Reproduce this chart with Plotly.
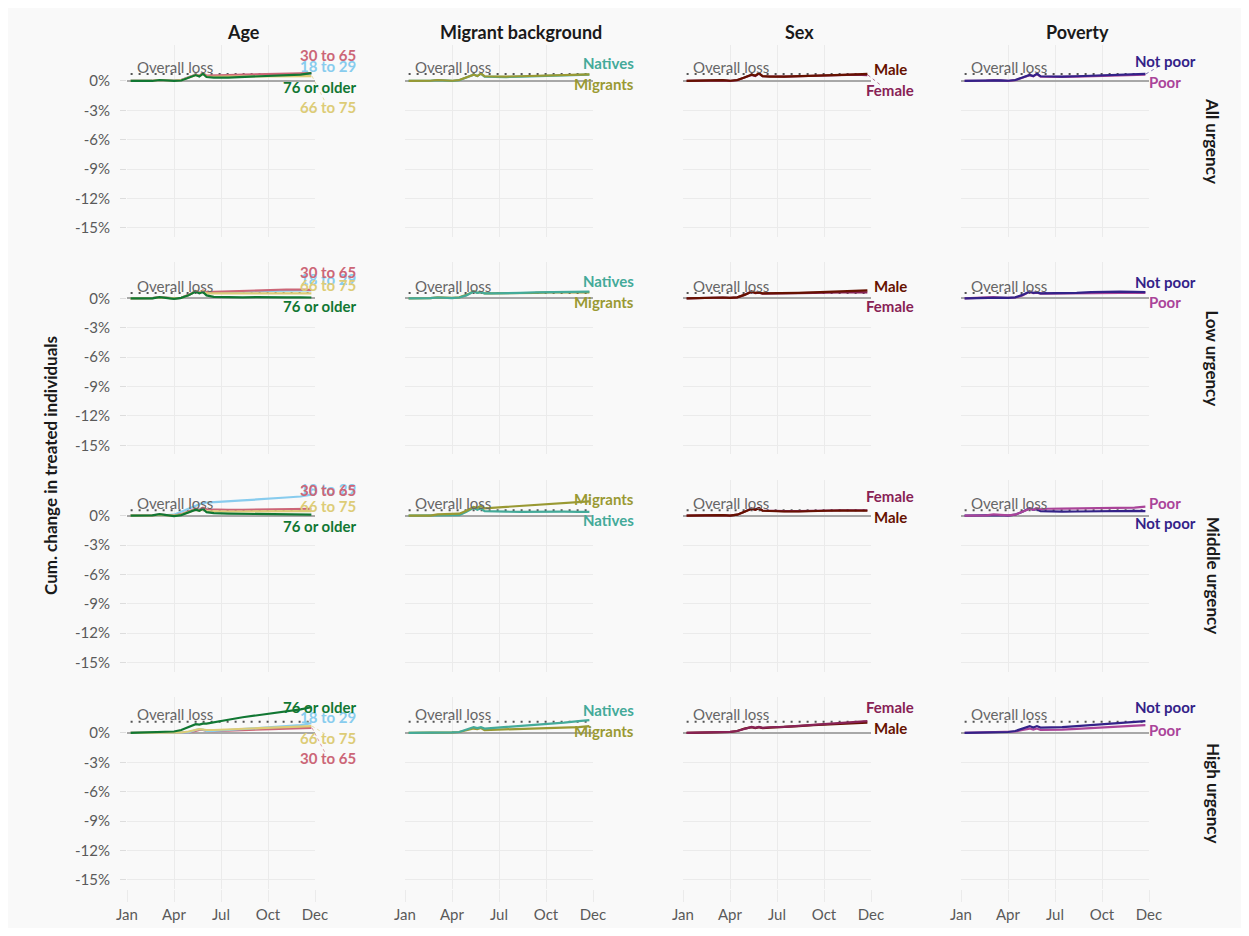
import plotly.graph_objects as go

# week index of each observation (x axis runs Jan..Dec as weeks 0..52)
WEEKS = [1, 4, 7, 9, 11, 13, 15, 17, 19, 20, 21, 22, 24, 28, 32, 36, 40, 44, 48, 51]
MONTH_TICKS = [0, 13, 26, 39, 52]
MONTH_LABELS = ["Jan", "Apr", "Jul", "Oct", "Dec"]
Y_TICKS = [0, -3, -6, -9, -12, -15]
Y_TICK_LABELS = ["0%", "-3%", "-6%", "-9%", "-12%", "-15%"]

FACETS = ["Age", "Migrant background", "Sex", "Poverty"]
URGENCY = ["All urgency", "Low urgency", "Middle urgency", "High urgency"]
OVERALL_LOSS = [0.72, 0.55, 0.55, 1.15]

COLORS = {
    "18 to 29": "#88CCEE", "30 to 65": "#CC6677", "66 to 75": "#DDCC77",
    "76 or older": "#117733", "Natives": "#44AA99", "Migrants": "#999933",
    "Male": "#661100", "Female": "#882255", "Not poor": "#332288", "Poor": "#AA4499",
}

# ---- All urgency
age_all = {
    "18 to 29": [0, 0, 0.02, 0.1, 0.05, 0.02, 0.1, 0.35, 0.65, 0.5, 0.75, 0.5, 0.5, 0.5, 0.55, 0.6, 0.65, 0.7, 0.7, 0.75],
    "30 to 65": [0, 0, 0.02, 0.1, 0.05, 0.02, 0.1, 0.35, 0.65, 0.55, 0.8, 0.55, 0.55, 0.6, 0.65, 0.7, 0.75, 0.78, 0.78, 0.8],
    "66 to 75": [0, 0, 0.02, 0.1, 0.05, 0.02, 0.08, 0.3, 0.6, 0.5, 0.7, 0.45, 0.42, 0.45, 0.45, 0.5, 0.5, 0.52, 0.5, 0.5],
    "76 or older": [0, 0, 0.0, 0.1, 0.05, 0.0, 0.05, 0.3, 0.6, 0.45, 0.75, 0.4, 0.35, 0.35, 0.4, 0.45, 0.5, 0.55, 0.65, 0.8],
}
migrant_all = {
    "Natives": [0, 0, 0.02, 0.08, 0.05, 0.0, 0.08, 0.35, 0.65, 0.5, 0.75, 0.45, 0.42, 0.4, 0.45, 0.5, 0.55, 0.6, 0.62, 0.65],
    "Migrants": [0, 0, 0.02, 0.1, 0.05, 0.02, 0.1, 0.35, 0.65, 0.5, 0.75, 0.48, 0.45, 0.45, 0.48, 0.52, 0.55, 0.6, 0.62, 0.68],
}
sex_all = {
    "Female": [0, 0.02, 0.05, 0.1, 0.06, 0.0, 0.08, 0.35, 0.62, 0.5, 0.75, 0.48, 0.45, 0.45, 0.48, 0.52, 0.56, 0.6, 0.65, 0.6],
    "Male": [0, 0.02, 0.05, 0.12, 0.08, 0.02, 0.1, 0.35, 0.65, 0.55, 0.8, 0.5, 0.45, 0.45, 0.48, 0.52, 0.58, 0.62, 0.68, 0.72],
}
poverty_all = {
    "Poor": [0, 0, 0.03, 0.08, 0.05, 0.0, 0.08, 0.3, 0.6, 0.48, 0.7, 0.45, 0.42, 0.42, 0.45, 0.5, 0.55, 0.58, 0.62, 0.65],
    "Not poor": [0, 0.02, 0.04, 0.1, 0.06, 0.02, 0.1, 0.35, 0.62, 0.5, 0.72, 0.48, 0.45, 0.45, 0.48, 0.52, 0.58, 0.62, 0.66, 0.72],
}

# ---- Low urgency
age_low = {
    "18 to 29": [0, 0, 0.02, 0.12, 0.05, 0.0, 0.05, 0.3, 0.7, 0.55, 0.7, 0.55, 0.6, 0.62, 0.65, 0.7, 0.75, 0.78, 0.78, 0.8],
    "30 to 65": [0, 0, 0.02, 0.12, 0.05, 0.0, 0.05, 0.35, 0.75, 0.6, 0.8, 0.62, 0.65, 0.7, 0.75, 0.8, 0.88, 0.9, 0.88, 0.85],
    "66 to 75": [0, 0, 0.02, 0.1, 0.05, 0.0, 0.05, 0.3, 0.7, 0.55, 0.75, 0.5, 0.5, 0.5, 0.52, 0.52, 0.55, 0.55, 0.55, 0.5],
    "76 or older": [0, 0, 0.0, 0.12, 0.05, -0.05, 0.05, 0.3, 0.7, 0.5, 0.65, 0.3, 0.15, 0.1, 0.1, 0.12, 0.08, 0.1, 0.1, 0.08],
}
migrant_low = {
    "Migrants": [0, 0, 0.02, 0.1, 0.05, 0.05, 0.1, 0.35, 0.72, 0.55, 0.65, 0.5, 0.5, 0.5, 0.52, 0.55, 0.6, 0.6, 0.62, 0.6],
    "Natives": [0, 0, 0.02, 0.08, 0.05, 0.02, 0.08, 0.3, 0.7, 0.55, 0.62, 0.5, 0.5, 0.5, 0.55, 0.6, 0.62, 0.65, 0.68, 0.68],
}
sex_low = {
    "Female": [0, 0.02, 0.05, 0.1, 0.08, 0.05, 0.1, 0.35, 0.68, 0.52, 0.58, 0.48, 0.48, 0.48, 0.52, 0.56, 0.6, 0.62, 0.62, 0.6],
    "Male": [0, 0.02, 0.05, 0.1, 0.08, 0.05, 0.1, 0.35, 0.7, 0.55, 0.6, 0.5, 0.5, 0.5, 0.55, 0.6, 0.65, 0.68, 0.72, 0.8],
}
poverty_low = {
    "Poor": [0, 0.02, 0.04, 0.12, 0.05, 0.05, 0.08, 0.3, 0.68, 0.52, 0.58, 0.48, 0.48, 0.48, 0.5, 0.52, 0.55, 0.55, 0.58, 0.55],
    "Not poor": [0, 0.02, 0.04, 0.1, 0.06, 0.05, 0.1, 0.35, 0.7, 0.55, 0.6, 0.5, 0.5, 0.52, 0.56, 0.62, 0.68, 0.68, 0.65, 0.62],
}

# ---- Middle urgency
age_mid = {
    "18 to 29": [0, 0, 0.0, 0.05, 0.05, 0.1, 0.4, 0.7, 1.0, 1.15, 1.3, 1.32, 1.38, 1.45, 1.55, 1.65, 1.72, 1.85, 1.95, 2.15],
    "30 to 65": [0, 0, 0.02, 0.1, 0.05, 0.0, 0.15, 0.45, 0.7, 0.6, 0.8, 0.65, 0.62, 0.6, 0.6, 0.62, 0.65, 0.68, 0.68, 0.7],
    "66 to 75": [0, 0, 0.02, 0.08, 0.05, 0.0, 0.1, 0.35, 0.6, 0.5, 0.65, 0.45, 0.42, 0.42, 0.42, 0.44, 0.45, 0.45, 0.45, 0.45],
    "76 or older": [0, 0, 0.02, 0.15, 0.05, -0.05, 0.05, 0.35, 0.6, 0.5, 0.7, 0.35, 0.25, 0.2, 0.18, 0.15, 0.1, 0.12, 0.1, 0.1],
}
migrant_mid = {
    "Natives": [0, 0, 0.02, 0.05, 0.03, 0.0, 0.05, 0.4, 0.8, 0.6, 0.75, 0.45, 0.42, 0.4, 0.38, 0.4, 0.38, 0.4, 0.38, 0.38],
    "Migrants": [0, 0, 0.0, 0.12, 0.15, 0.15, 0.2, 0.5, 0.9, 0.8, 1.0, 0.75, 0.8, 0.9, 1.0, 1.1, 1.2, 1.3, 1.35, 1.45],
}
sex_mid = {
    "Female": [0, 0.02, 0.05, 0.1, 0.05, 0.0, 0.1, 0.4, 0.72, 0.62, 0.78, 0.52, 0.48, 0.45, 0.45, 0.5, 0.52, 0.55, 0.55, 0.55],
    "Male": [0, 0.02, 0.05, 0.1, 0.05, 0.0, 0.1, 0.4, 0.7, 0.6, 0.75, 0.5, 0.45, 0.42, 0.42, 0.48, 0.5, 0.52, 0.52, 0.5],
}
poverty_mid = {
    "Not poor": [0, 0.02, 0.03, 0.1, 0.05, 0.0, 0.1, 0.4, 0.75, 0.6, 0.65, 0.45, 0.42, 0.4, 0.42, 0.45, 0.48, 0.48, 0.48, 0.45],
    "Poor": [0, 0.02, 0.03, 0.12, 0.08, 0.02, 0.1, 0.4, 0.7, 0.6, 0.75, 0.65, 0.7, 0.72, 0.75, 0.75, 0.78, 0.8, 0.82, 0.92],
}

# ---- High urgency
age_high = {
    "30 to 65": [0, 0, 0.0, 0.0, 0.0, 0.0, 0.0, 0.05, 0.2, 0.3, 0.3, 0.2, 0.18, 0.25, 0.3, 0.35, 0.4, 0.45, 0.5, 0.52],
    "18 to 29": [0, 0, 0.0, 0.0, 0.0, 0.0, 0.0, 0.05, 0.3, 0.4, 0.35, 0.2, 0.2, 0.3, 0.4, 0.5, 0.6, 0.7, 0.8, 1.0],
    "66 to 75": [0, 0, 0.0, 0.0, 0.05, 0.0, 0.05, 0.15, 0.35, 0.4, 0.35, 0.3, 0.3, 0.38, 0.42, 0.48, 0.55, 0.6, 0.65, 0.7],
    "76 or older": [0, 0.02, 0.05, 0.1, 0.12, 0.15, 0.3, 0.6, 0.9, 0.85, 0.95, 0.95, 1.1, 1.35, 1.6, 1.8, 1.95, 2.2, 2.4, 2.62],
}
migrant_high = {
    "Migrants": [0, 0.0, 0.02, 0.02, 0.05, 0.05, 0.1, 0.25, 0.45, 0.4, 0.5, 0.3, 0.32, 0.35, 0.4, 0.45, 0.5, 0.55, 0.6, 0.7],
    "Natives": [0, 0.0, 0.02, 0.02, 0.05, 0.05, 0.1, 0.35, 0.6, 0.5, 0.6, 0.45, 0.5, 0.6, 0.7, 0.8, 0.95, 1.05, 1.2, 1.3],
}
sex_high = {
    "Male": [0, 0.02, 0.05, 0.08, 0.1, 0.1, 0.2, 0.45, 0.6, 0.5, 0.6, 0.5, 0.55, 0.6, 0.7, 0.8, 0.88, 0.95, 1.0, 1.05],
    "Female": [0, 0.02, 0.05, 0.08, 0.1, 0.12, 0.2, 0.45, 0.62, 0.52, 0.62, 0.52, 0.58, 0.62, 0.72, 0.82, 0.92, 1.0, 1.1, 1.2],
}
poverty_high = {
    "Poor": [0, 0.02, 0.03, 0.05, 0.08, 0.1, 0.15, 0.3, 0.45, 0.35, 0.45, 0.3, 0.3, 0.35, 0.42, 0.5, 0.58, 0.65, 0.72, 0.8],
    "Not poor": [0, 0.02, 0.03, 0.05, 0.08, 0.1, 0.2, 0.45, 0.7, 0.55, 0.7, 0.55, 0.55, 0.6, 0.7, 0.8, 0.9, 1.0, 1.1, 1.2],
}

PANELS = [
    [age_all, migrant_all, sex_all, poverty_all],
    [age_low, migrant_low, sex_low, poverty_low],
    [age_mid, migrant_mid, sex_mid, poverty_mid],
    [age_high, migrant_high, sex_high, poverty_high],
]

# repelled end-label heights (in % units), per urgency row
LABEL_Y = [
    {"30 to 65": 2.65, "18 to 29": 1.53, "76 or older": -0.61, "66 to 75": -2.65,
     "Natives": 1.84, "Migrants": -0.31, "Male": 1.22, "Female": -0.92, "Not poor": 2.04, "Poor": -0.1},
    {"18 to 29": 1.94, "30 to 65": 2.65, "66 to 75": 1.33, "76 or older": -0.82,
     "Natives": 1.73, "Migrants": -0.41, "Male": 1.22, "Female": -0.82, "Not poor": 1.63, "Poor": -0.41},
    {"18 to 29": 2.72, "30 to 65": 2.65, "66 to 75": 1.02, "76 or older": -1.02,
     "Migrants": 1.73, "Natives": -0.41, "Female": 2.04, "Male": -0.1, "Poor": 1.33, "Not poor": -0.71},
    {"76 or older": 2.65, "18 to 29": 1.63, "66 to 75": -0.51, "30 to 65": -2.55,
     "Natives": 2.35, "Migrants": 0.2, "Female": 2.65, "Male": 0.51, "Not poor": 2.65, "Poor": 0.31},
]
# label anchor, in pixels from the panel's left edge
LABEL_X = {"Age": (231, "right"), "Migrant background": (231, "right"),
           "Sex": (207, "center"), "Poverty": (204, "center")}
# labels pushed far from their line end get a faint dotted leader
LEADERS = [(0, 0, "66 to 75", -2.1), (3, 0, "30 to 65", -2.0), (3, 0, "66 to 75", -0.1),
           (0, 2, "Female", -0.45), (0, 3, "Not poor", 1.5)]

FIG_W, FIG_H = 1233, 920
PANEL_W, PANEL_H = 188, 192
Y_RANGE = [-15.92, 3.67]
GRID = "#ebebeb"
FONT = "Lato, 'Open Sans', sans-serif"


def fx(px):
    return (px - 8) / FIG_W


def fy(py):
    return 1 - (py - 8) / FIG_H


fig = go.Figure()
layout = {}
annotations = []
shapes = []

for r in range(4):
    top = 45 + 217.33 * r
    for c in range(4):
        idx = r * 4 + c + 1
        sfx = "" if idx == 1 else str(idx)
        left = 127 + 278 * c
        layout["xaxis" + sfx] = dict(
            domain=[fx(left), fx(left + PANEL_W)], range=[0, 52], anchor="y" + sfx,
            tickvals=MONTH_TICKS, ticktext=MONTH_LABELS, showticklabels=(r == 3),
            ticks="outside" if r == 3 else "", ticklen=12, tickcolor=GRID,
            showgrid=True, gridcolor=GRID, gridwidth=1, zeroline=False, showline=False,
            automargin=False, tickfont=dict(size=15, color="#5a5a5a"),
        )
        layout["yaxis" + sfx] = dict(
            domain=[fy(top + PANEL_H), fy(top)], range=Y_RANGE, anchor="x" + sfx,
            tickvals=Y_TICKS, ticktext=Y_TICK_LABELS, showticklabels=(c == 0),
            ticks="outside" if c == 0 else "", ticklen=6, tickcolor="#dddddd",
            ticklabelstandoff=7,
            showgrid=True, gridcolor=GRID, gridwidth=1,
            zeroline=True, zerolinecolor="#a8a8a8", zerolinewidth=2, showline=False,
            automargin=False, tickfont=dict(size=15, color="#5a5a5a"),
        )
        xa, ya = "x" + sfx, "y" + sfx

        # overall loss reference
        fig.add_trace(go.Scatter(
            x=[WEEKS[0], 51.8], y=[OVERALL_LOSS[r]] * 2, xaxis=xa, yaxis=ya, mode="lines",
            line=dict(color="#555555", width=2, dash="2px,6px"), hoverinfo="skip", showlegend=False,
        ))
        annotations.append(dict(
            x=fx(left + 8), y=OVERALL_LOSS[r] + 0.75, xref="paper", yref=ya, text="Overall loss",
            showarrow=False, xanchor="left", yanchor="middle",
            font=dict(size=15, color="#666666", family=FONT),
        ))

        facet = FACETS[c]
        lx, anchor = LABEL_X[facet]
        for name, vals in PANELS[r][c].items():
            fig.add_trace(go.Scatter(
                x=WEEKS, y=vals, xaxis=xa, yaxis=ya, mode="lines", name=name,
                line=dict(color=COLORS[name], width=2.2), showlegend=False,
            ))
            annotations.append(dict(
                x=fx(left + lx), y=LABEL_Y[r][name], xref="paper", yref=ya,
                text=f"<b>{name}</b>", showarrow=False, xanchor=anchor, yanchor="middle",
                font=dict(size=15, color=COLORS[name], family=FONT),
            ))

    annotations.append(dict(
        x=fx(1213), y=fy(top + PANEL_H / 2), xref="paper", yref="paper",
        text=f"<b>{URGENCY[r]}</b>", textangle=90, showarrow=False,
        xanchor="center", yanchor="middle", font=dict(size=17, color="#1a1a1a", family=FONT),
    ))

for r, c, name, y_end in LEADERS:
    idx = r * 4 + c + 1
    ya = "y" if idx == 1 else f"y{idx}"
    right = 127 + 278 * c + PANEL_W
    shapes.append(dict(
        type="line", xref="paper", yref=ya,
        x0=fx(right - 3), y0=PANELS[r][c][name][-1], x1=fx(right + 10), y1=y_end,
        line=dict(color=COLORS[name], width=1, dash="dot"), opacity=0.6,
    ))

for c, facet in enumerate(FACETS):
    left = 127 + 278 * c
    annotations.append(dict(
        x=fx(left + 116), y=fy(32), xref="paper", yref="paper", text=f"<b>{facet}</b>",
        showarrow=False, xanchor="center", yanchor="middle",
        font=dict(size=18, color="#1a1a1a", family=FONT),
    ))

annotations.append(dict(
    x=fx(50), y=fy(466), xref="paper", yref="paper",
    text="<b>Cum. change in treated individuals</b>", textangle=-90, showarrow=False,
    xanchor="center", yanchor="middle", font=dict(size=17, color="#1a1a1a", family=FONT),
))

fig.update_layout(
    **layout,
    annotations=annotations,
    shapes=shapes,
    width=FIG_W, height=FIG_H, autosize=False,
    margin=dict(l=0, r=0, t=0, b=0, autoexpand=False),
    paper_bgcolor="#f9f9f9", plot_bgcolor="#f9f9f9",
    font=dict(family=FONT, color="#555555"),
    showlegend=False,
)

fig.write_html("out.html")
